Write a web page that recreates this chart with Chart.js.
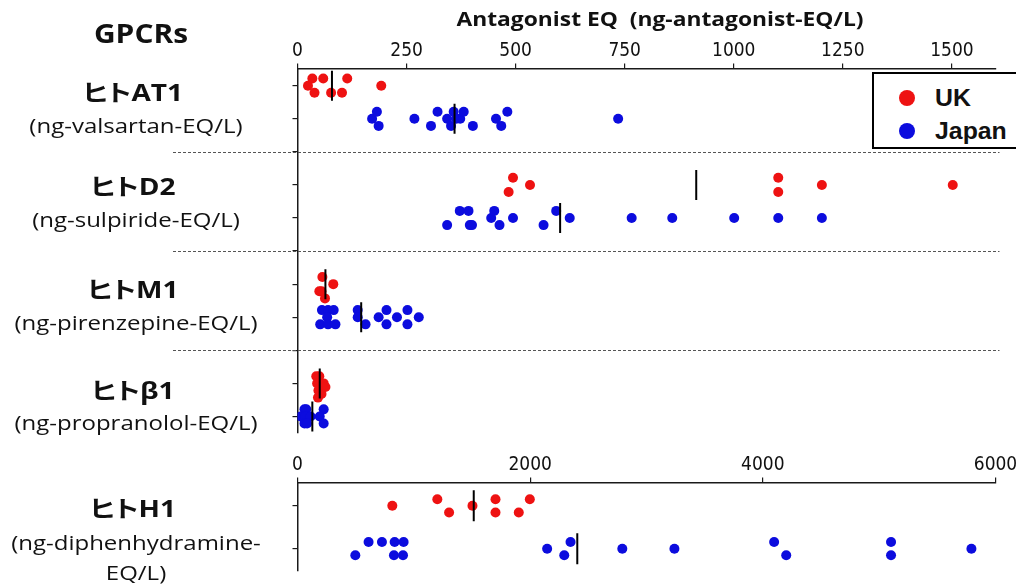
<!DOCTYPE html>
<html><head><meta charset="utf-8">
<script src="https://cdn.jsdelivr.net/npm/chart.js@4.4.1/dist/chart.umd.min.js"></script>
<style>
html,body{margin:0;padding:0;background:#fff;}
#wrap{position:relative;width:1016px;height:588px;overflow:hidden;background:#fff;}
#wrap canvas{position:absolute;left:0;}
.t{position:absolute;white-space:pre;line-height:1;color:#111;transform:translate(-50%,-50%) scaleX(1.2);font-feature-settings:"palt";}
.head{font-family:'Open Sans','Noto Sans CJK JP',sans-serif;font-weight:700;font-size:23px;transform:translate(-50%,-50%) scaleX(1.22);}
.unit{font-family:'Open Sans','Noto Sans CJK JP',sans-serif;font-weight:400;font-size:20px;}
#gpcr{font-family:'Open Sans',sans-serif;font-weight:700;font-size:26px;transform:translate(-50%,-50%) scaleX(1.15);}
#xtitle{font-family:'Open Sans',sans-serif;font-weight:700;font-size:19px;transform:translate(-50%,-50%) scaleX(1.2);}
#legend{position:absolute;left:872px;top:72px;width:200px;height:73px;border:2.5px solid #000;background:#fff;}
.lg{position:absolute;left:0;width:200px;height:30px;}
.lg .dot{position:absolute;left:25px;top:7px;width:16px;height:16px;border-radius:50%;}
.lg span{position:absolute;left:61px;top:2px;font-family:'Liberation Sans',Arial,sans-serif;font-weight:700;font-size:23px;color:#111;transform-origin:left center;transform:scaleX(1.08);}
</style></head>
<body>
<div id="wrap">
  <canvas id="top" width="1016" height="450" style="top:0;width:1016px;height:450px"></canvas>
  <canvas id="bot" width="1016" height="138" style="top:450px;width:1016px;height:138px"></canvas>
  <div id="labels"></div>
  <div id="legend"></div>
</div>
<script>
// ---------------- data ----------------
const receptors = ['ヒトAT1', 'ヒトD2', 'ヒトM1', 'ヒトβ1', 'ヒトH1'];
const unitLabels = ['(ng-valsartan-EQ/L)', '(ng-sulpiride-EQ/L)', '(ng-pirenzepine-EQ/L)', '(ng-propranolol-EQ/L)', '(ng-diphenhydramine-\nEQ/L)'];
const seriesNames = ['UK', 'Japan'];
const axisTitle = 'Antagonist EQ  (ng-antagonist-EQ/L)';
const headerText = 'GPCRs';

const upperTicks = [0, 250, 500, 750, 1000, 1250, 1500];
const lowerTicks = [0, 2000, 4000, 6000];

// values (ng-EQ/L); lane = small vertical offset used to separate overlapping dots
const at1UK = [24, 34, 59, 39, 77, 102, 114, 192];
const at1UKLane = [0, -1, -1, 1, 1, 1, -1, 0];
const at1JP = [171, 182, 186, 268, 306, 321, 343, 352, 358, 364, 373, 381, 402, 455, 467, 481, 735];
const at1JPLane = [0, -1, 1, 0, 1, -1, 0, 1, -1, 0, 0, -1, 1, 0, 1, -1, 0];

const d2UK = [494, 533, 484, 1102, 1102, 1202, 1502];
const d2UKLane = [-1, 0, 1, -1, 1, 0, 0];
const d2JP = [343, 372, 392, 395, 400, 444, 451, 463, 494, 564, 593, 624, 766, 859, 1001, 1102, 1202];
const d2JPLane = [1, -1, -1, 1, 1, 0, -1, 1, 0, 1, -1, 0, 0, 0, 0, 0, 0];

const m1UK = [57, 82, 50, 55, 63];
const m1UKLane = [-1, 0, 1, 1, 2];
const m1JP = [56, 70, 83, 68, 52, 70, 87, 138, 138, 156, 186, 204, 204, 228, 252, 252, 278];
const m1JPLane = [-1, -1, -1, 0, 1, 1, 1, -1, 0, 1, 0, -1, 1, 0, -1, 1, 0];

const b1UK = [43, 50, 45, 60, 64, 48, 55, 47];
const b1UKLane = [-1, -1, 0, 0, 0.5, 1, 1.5, 2];
const b1JP = [16, 20, 7, 18, 30, 16, 22, 60, 51, 60];
const b1JPLane = [-1, -1, 0, 0, 0, 1, 1, -1, 0, 1];

const h1UK = [815, 1202, 1303, 1504, 1702, 1702, 1902, 1997];
const h1UKLane = [0, -1, 1, 0, -1, 1, 1, -1];
const h1JP = [497, 611, 726, 835, 912, 829, 907, 2146, 2347, 2293, 2792, 3240, 4097, 4201, 5102, 5102, 5793];
const h1JPLane = [1, -1, -1, -1, -1, 1, 1, 0, -1, 1, 0, 0, -1, 1, -1, 1, 0];

// mean bars [UK, Japan]
const at1Mean = [79, 360];
const d2Mean = [914, 602];
const m1Mean = [64, 146];
const b1Mean = [51, 34];
const h1Mean = [1515, 2405];

// ---------------- styling / layout ----------------
const RED = 'rgb(238,18,18)';
const BLUE = 'rgb(12,12,222)';
const AXIS = '#1a1a1a';
const TICKFONT = "'Liberation Sans Narrow','DejaVu Sans Condensed','Liberation Sans',Arial,sans-serif";
const LANE_UP = 0.215, LANE_LOW = 0.155;
const PLOT_LEFT = 297.5, PLOT_RIGHT = 995.5;
const separatorRows = [3, 6, 9];

function pts(vals, lanes, row, step) {
  return vals.map((v, i) => ({ x: v, y: row + lanes[i] * step }));
}

const upperUK = [].concat(pts(at1UK, at1UKLane, 1, LANE_UP), pts(d2UK, d2UKLane, 4, LANE_UP), pts(m1UK, m1UKLane, 7, LANE_UP), pts(b1UK, b1UKLane, 10, LANE_UP));
const upperJP = [].concat(pts(at1JP, at1JPLane, 2, LANE_UP), pts(d2JP, d2JPLane, 5, LANE_UP), pts(m1JP, m1JPLane, 8, LANE_UP), pts(b1JP, b1JPLane, 11, LANE_UP));
const upperMeans = [at1Mean, d2Mean, m1Mean, b1Mean].flatMap((m, k) => [{ x: m[0], y: 1 + 3 * k }, { x: m[1], y: 2 + 3 * k }]);

function dotSet(label, data, color, r) {
  return { label, data, order: 2, backgroundColor: color, pointBackgroundColor: color, borderWidth: 0, pointBorderWidth: 0,
    pointRadius: r, pointHoverRadius: r, pointStyle: 'circle' };
}
function meanSet(data, half) {
  return { label: 'mean', data, order: 0, pointStyle: 'line', pointRotation: 90, rotation: 90, pointRadius: half, pointHoverRadius: half,
    borderColor: '#000', pointBorderColor: '#000', borderWidth: 2, pointBorderWidth: 2, backgroundColor: '#000' };
}

function xScale(max, ticks, height, pad) {
  return {
    type: 'linear', position: 'top', min: 0, max: max,
    afterBuildTicks: s => { s.ticks = ticks.map(v => ({ value: v })); },
    afterFit: s => { s.height = height; s.paddingLeft = 0; s.paddingRight = 0; },
    ticks: { font: { family: TICKFONT, size: 19 }, color: '#111', padding: pad, maxRotation: 0, autoSkip: false,
      callback: v => String(v) },
    grid: { drawOnChartArea: false, drawTicks: true, tickLength: 5, color: AXIS, lineWidth: 1.2 },
    border: { display: true, color: AXIS, width: 1.5 }
  };
}
function yScale(min, max, ticks) {
  return {
    type: 'linear', reverse: true, min: min, max: max,
    afterBuildTicks: s => { s.ticks = ticks.map(v => ({ value: v })); },
    afterFit: s => { s.width = PLOT_LEFT; },
    ticks: { display: false },
    grid: { drawOnChartArea: false, drawTicks: true, tickLength: 5, color: AXIS, lineWidth: 1.2 },
    border: { display: true, color: AXIS, width: 1.5 }
  };
}

const dividers = {
  id: 'dividers',
  beforeDatasetsDraw(chart) {
    const y = chart.scales.y, ctx = chart.ctx;
    ctx.save();
    ctx.setLineDash([3, 2]);
    ctx.strokeStyle = '#555';
    ctx.lineWidth = 1.2;
    separatorRows.forEach(r => {
      const py = Math.round(y.getPixelForValue(r)) + 0.5;
      ctx.beginPath(); ctx.moveTo(173, py); ctx.lineTo(chart.chartArea.right + 4, py); ctx.stroke();
    });
    ctx.restore();
  }
};

const common = {
  animation: false, responsive: false, maintainAspectRatio: false, devicePixelRatio: 1,
  plugins: { legend: { display: false }, tooltip: { enabled: false } },
  events: []
};

const topChart = new Chart(document.getElementById('top'), {
  type: 'scatter',
  data: { datasets: [dotSet(seriesNames[0], upperUK, RED, 5), dotSet(seriesNames[1], upperJP, BLUE, 5), meanSet(upperMeans, 15)] },
  options: Object.assign({}, common, {
    layout: { padding: { left: 0, right: 1016 - PLOT_RIGHT, top: 0, bottom: 7 } },
    scales: { x: xScale(1600, upperTicks, 68.5, 1), y: yScale(0.48, 11.5, [1, 2, 3, 4, 5, 6, 7, 8, 9, 10, 11]) }
  }),
  plugins: [dividers]
});

const botChart = new Chart(document.getElementById('bot'), {
  type: 'scatter',
  data: { datasets: [
    dotSet(seriesNames[0], pts(h1UK, h1UKLane, 1, LANE_LOW), RED, 5),
    dotSet(seriesNames[1], pts(h1JP, h1JPLane, 2, LANE_LOW), BLUE, 5),
    meanSet([{ x: h1Mean[0], y: 1 }, { x: h1Mean[1], y: 2 }], 15.5)
  ] },
  options: Object.assign({}, common, {
    layout: { padding: { left: 0, right: 1016 - PLOT_RIGHT, top: 0, bottom: 13 } },
    scales: { x: xScale(6000, lowerTicks, 32.5, 1), y: yScale(0.455, 2.51, [1, 2]) }
  })
});

// ---------------- text labels ----------------
const labelBox = document.getElementById('labels');
function addText(txt, cls, x, y, id) {
  const d = document.createElement('div');
  d.className = 't ' + cls; d.textContent = txt;
  d.style.left = x + 'px'; d.style.top = y + 'px';
  if (id) d.id = id;
  labelBox.appendChild(d);
}
addText(headerText, '', 141, 33, 'gpcr');
addText(axisTitle, '', 660, 19, 'xtitle');
const headY = [92, 186, 289, 390, 508];
const unitY = [[126], [220], [323], [423], [543, 573]];
receptors.forEach((r, i) => {
  addText(r, 'head', 133, headY[i]);
  unitLabels[i].split('\n').forEach((line, j) => addText(line, 'unit', 136, unitY[i][j]));
});

// legend built from the chart datasets
const lg = document.getElementById('legend');
topChart.data.datasets.slice(0, 2).forEach((ds, i) => {
  const row = document.createElement('div');
  row.className = 'lg'; row.style.top = (9 + i * 33) + 'px';
  const dot = document.createElement('div'); dot.className = 'dot'; dot.style.background = ds.backgroundColor;
  const s = document.createElement('span'); s.textContent = ds.label;
  row.appendChild(dot); row.appendChild(s); lg.appendChild(row);
});
</script>
</body></html>
